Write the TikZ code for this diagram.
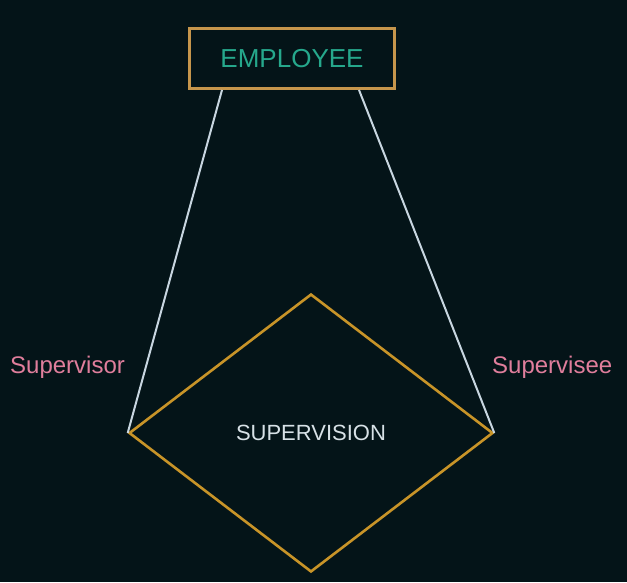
\documentclass[tikz,border=0pt]{standalone}
\usepackage{fontspec}
\setmainfont{Liberation Sans}
\usepackage{color}
\definecolor{mybg}{RGB}{4,20,24}
\definecolor{mygold}{RGB}{200,148,40}
\definecolor{mytan}{RGB}{198,150,76}
\definecolor{myteal}{RGB}{38,168,140}
\definecolor{mypink}{RGB}{224,126,156}
\definecolor{mywire}{RGB}{200,214,224}
\definecolor{mylabel}{RGB}{215,225,230}
\usepackage{tikz}
\usetikzlibrary{calc,shapes.geometric,positioning}

\begin{document}
\begin{tikzpicture}[
  x=1pt, y=-1pt,
  entity/.style={
    draw=mytan,
    line width=3pt,
    rectangle,
    minimum width=205pt,
    minimum height=60pt,
    text=myteal,
    font=\fontsize{26}{30}\selectfont
    },
  relation/.style={
    draw=mygold,
    line width=2.6pt,
    diamond,
    inner sep=0pt,
    minimum width=364pt,
    minimum height=278pt,
    text=mylabel,
    font=\fontsize{22}{26}\selectfont
    },
  role/.style={
    text=mypink,
    inner sep=0pt,
    font=\fontsize{24}{28}\selectfont
    },
  wire/.style={
    draw=mywire,
    line width=2pt
    }
]

\fill[mybg] (0,0) rectangle (627,582);

\node[entity] (employee) at (292,58.5) {EMPLOYEE};
\node[relation] (supervision) at (311,433) {SUPERVISION};

\draw[wire] ([xshift=34pt]employee.south west) -- (supervision.west);
\draw[wire] ([xshift=-37pt]employee.south east) -- (supervision.east);

\node[role, anchor=base west] (supervisor) at (10,373) {Supervisor};
\node[role, anchor=base west] (supervisee) at (492,373) {Supervisee};

\end{tikzpicture}
\end{document}
